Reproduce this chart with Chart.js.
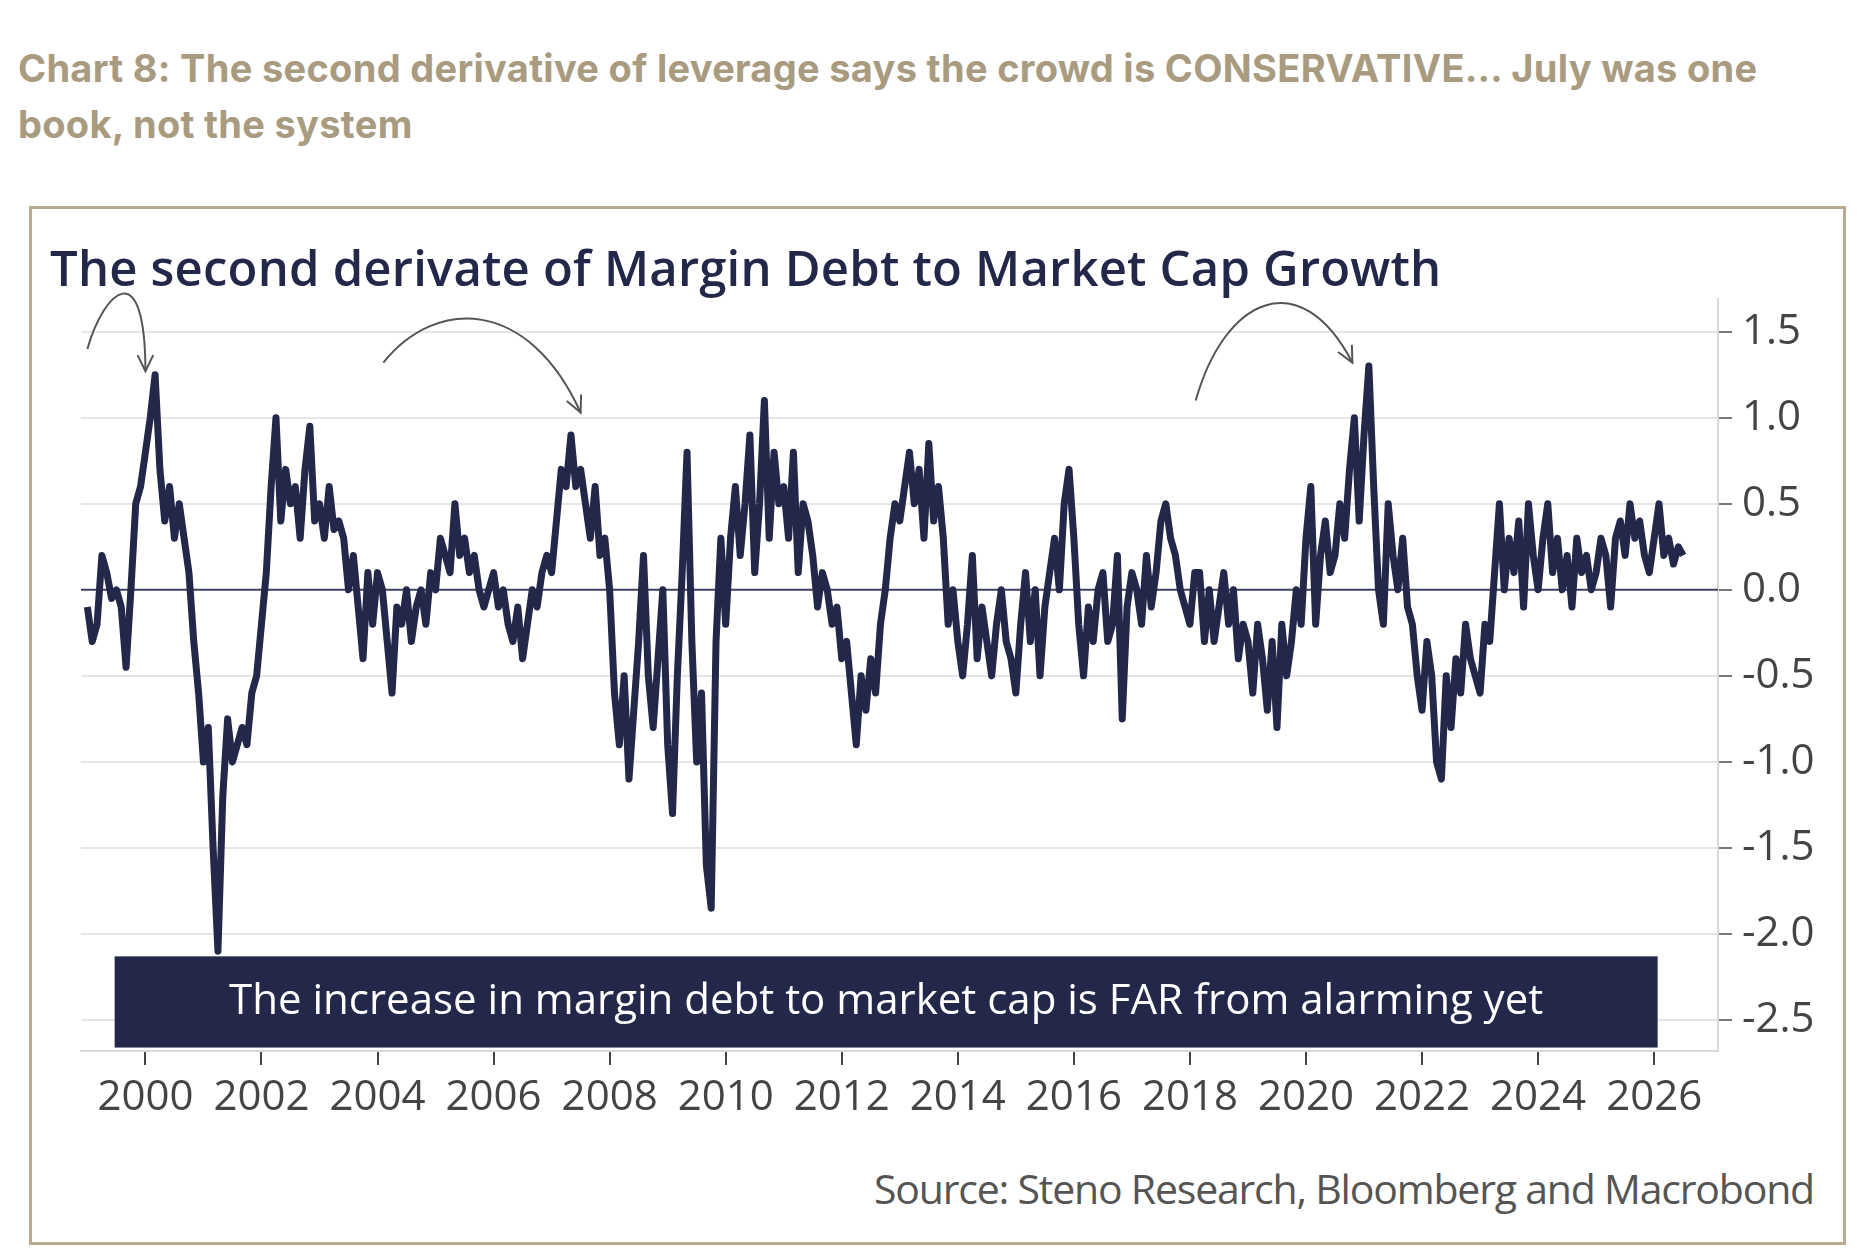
<!DOCTYPE html>
<html>
<head>
<meta charset="utf-8">
<script src="https://cdn.jsdelivr.net/npm/chart.js@4"></script>
<style>
  body { margin: 0; background: #fff; width: 1868px; height: 1260px; overflow: hidden; position: relative; }
  #heading { position: absolute; left: 18px; top: 40px; width: 1850px; font: bold 38px "Inter", "Noto Sans", sans-serif; color: #a99b80; line-height: 56px; letter-spacing: 0.3px; }
  #frame { position: absolute; left: 29px; top: 206px; width: 1811px; height: 1033px; border: 3px solid #b8ab92; }
  #title { position: absolute; left: 50px; top: 234px; font: 600 49px "Open Sans", sans-serif; color: #23284a; letter-spacing: 0.2px; }
  #source { position: absolute; right: 54px; top: 1160px; font: 41px "Open Sans", sans-serif; color: #555; letter-spacing: -1.2px; }
  canvas { position: absolute; left: 0; top: 0; }
</style>
</head>
<body>
<div id="heading">Chart 8: The second derivative of leverage says the crowd is CONSERVATIVE… July was one<br>book, not the system</div>
<div id="frame"></div>
<div id="title">The second derivate of Margin Debt to Market Cap Growth</div>
<div id="source">Source: Steno Research, Bloomberg and Macrobond</div>
<canvas id="c" width="1868" height="1260"></canvas>
<script>
// monthly values
const startYear = 1999;
const y1999 = [-0.1,-0.3,-0.2,0.2,0.1,-0.05,0.0,-0.1,-0.45,0.0,0.5,0.6];
const y2000 = [0.8,1.0,1.25,0.7,0.4,0.6,0.3,0.5,0.3,0.1,-0.3,-0.6];
const y2001 = [-1.0,-0.8,-1.5,-2.1,-1.2,-0.75,-1.0,-0.9,-0.8,-0.9,-0.6,-0.5];
const y2002 = [-0.2,0.1,0.6,1.0,0.4,0.7,0.5,0.6,0.3,0.7,0.95,0.4];
const y2003 = [0.5,0.3,0.6,0.35,0.4,0.3,0.0,0.2,-0.1,-0.4,0.1,-0.2];
const y2004 = [0.1,0.0,-0.3,-0.6,-0.1,-0.2,0.0,-0.3,-0.1,0.0,-0.2,0.1];
const y2005 = [0.0,0.3,0.2,0.1,0.5,0.2,0.3,0.1,0.2,0.0,-0.1,0.0];
const y2006 = [0.1,-0.1,0.0,-0.2,-0.3,-0.1,-0.4,-0.2,0.0,-0.1,0.1,0.2];
const y2007 = [0.1,0.4,0.7,0.6,0.9,0.6,0.7,0.5,0.3,0.6,0.2,0.3];
const y2008 = [0.0,-0.6,-0.9,-0.5,-1.1,-0.7,-0.3,0.2,-0.5,-0.8,-0.4,0.0];
const y2009 = [-0.9,-1.3,-0.5,0.1,0.8,-0.3,-1.0,-0.6,-1.6,-1.85,-0.3,0.3];
const y2010 = [-0.2,0.3,0.6,0.2,0.5,0.9,0.1,0.5,1.1,0.3,0.8,0.5];
const y2011 = [0.6,0.3,0.8,0.1,0.5,0.4,0.2,-0.1,0.1,0.0,-0.2,-0.1];
const y2012 = [-0.4,-0.3,-0.6,-0.9,-0.5,-0.7,-0.4,-0.6,-0.2,0.0,0.3,0.5];
const y2013 = [0.4,0.6,0.8,0.5,0.7,0.3,0.85,0.4,0.6,0.3,-0.2,0.0];
const y2014 = [-0.3,-0.5,-0.2,0.2,-0.4,-0.1,-0.3,-0.5,-0.2,0.0,-0.3,-0.4];
const y2015 = [-0.6,-0.2,0.1,-0.3,0.0,-0.5,-0.1,0.1,0.3,0.0,0.5,0.7];
const y2016 = [0.3,-0.2,-0.5,-0.1,-0.3,0.0,0.1,-0.3,-0.2,0.2,-0.75,-0.1];
const y2017 = [0.1,0.0,-0.2,0.2,-0.1,0.1,0.4,0.5,0.3,0.2,0.0,-0.1];
const y2018 = [-0.2,0.1,0.1,-0.3,0.0,-0.3,-0.1,0.1,-0.2,0.0,-0.4,-0.2];
const y2019 = [-0.3,-0.6,-0.2,-0.4,-0.7,-0.3,-0.8,-0.2,-0.5,-0.3,0.0,-0.2];
const y2020 = [0.3,0.6,-0.2,0.2,0.4,0.1,0.2,0.5,0.3,0.7,1.0,0.4];
const y2021 = [0.9,1.3,0.6,0.0,-0.2,0.5,0.2,0.0,0.3,-0.1,-0.2,-0.5];
const y2022 = [-0.7,-0.3,-0.5,-1.0,-1.1,-0.5,-0.8,-0.4,-0.6,-0.2,-0.4,-0.5];
const y2023 = [-0.6,-0.2,-0.3,0.1,0.5,0.0,0.3,0.1,0.4,-0.1,0.5,0.2];
const y2024 = [0.0,0.3,0.5,0.1,0.3,0.0,0.2,-0.1,0.3,0.1,0.2,0.0];
const y2025 = [0.1,0.3,0.2,-0.1,0.3,0.4,0.2,0.5,0.3,0.4,0.2,0.1];
const y2026 = [0.3,0.5,0.2,0.3,0.15,0.25,0.2];
const yearTicks = [2000,2002,2004,2006,2008,2010,2012,2014,2016,2018,2020,2022,2024,2026];
const valueTicks = [1.5,1.0,0.5,0.0,-0.5,-1.0,-1.5,-2.0,-2.5];
const bannerText = "The increase in margin debt to market cap is FAR from alarming yet";

const allMonths = [y1999,y2000,y2001,y2002,y2003,y2004,y2005,y2006,y2007,y2008,y2009,y2010,y2011,y2012,
  y2013,y2014,y2015,y2016,y2017,y2018,y2019,y2020,y2021,y2022,y2023,y2024,y2025,y2026].flat();
const points = allMonths.map((v, i) => ({ x: startYear + i / 12, y: v }));

const NAVY = "#23284a";

// -------- extras: banner, arrows, zero line ----------
const extras = {
  id: "extras",
  beforeDatasetsDraw(chart) {
    const { ctx, scales: { y }, chartArea } = chart;
    ctx.save();
    ctx.strokeStyle = "#3c4160"; ctx.lineWidth = 2;
    ctx.beginPath(); ctx.moveTo(chartArea.left, y.getPixelForValue(0)); ctx.lineTo(chartArea.right, y.getPixelForValue(0)); ctx.stroke();
    ctx.restore();
  },
  afterDatasetsDraw(chart) {
    const { ctx, scales: { x, y } } = chart;
    ctx.save();
    // banner
    const bx1 = x.getPixelForValue(1999.47), bx2 = x.getPixelForValue(2026.06);
    const by1 = y.getPixelForValue(-2.13), by2 = y.getPixelForValue(-2.66);
    ctx.fillStyle = NAVY;
    ctx.fillRect(bx1, by1, bx2 - bx1, by2 - by1);
    ctx.fillStyle = "#fff";
    ctx.font = '42px "Open Sans"';
    ctx.textAlign = "center"; ctx.textBaseline = "middle";
    ctx.fillText(bannerText, (bx1 + bx2) / 2, (by1 + by2) / 2);
    // arrows
    ctx.strokeStyle = "#555"; ctx.lineWidth = 2;
    const arrow = (p0, c1, c2, p1) => {
      const P = (a) => [x.getPixelForValue(a[0]), y.getPixelForValue(a[1])];
      const [a, b, c, d] = [P(p0), P(c1), P(c2), P(p1)];
      ctx.beginPath(); ctx.moveTo(...a); ctx.bezierCurveTo(...b, ...c, ...d); ctx.stroke();
      const ang = Math.atan2(d[1] - c[1], d[0] - c[0]);
      ctx.beginPath();
      ctx.moveTo(d[0] - 18 * Math.cos(ang - 0.45), d[1] - 18 * Math.sin(ang - 0.45));
      ctx.lineTo(...d);
      ctx.lineTo(d[0] - 18 * Math.cos(ang + 0.45), d[1] - 18 * Math.sin(ang + 0.45));
      ctx.stroke();
    };
    arrow([1999.0, 1.4], [1999.3, 1.75], [2000.0, 1.95], [2000.0, 1.27]);
    arrow([2004.1, 1.32], [2005.0, 1.7], [2006.6, 1.7], [2007.5, 1.03]);
    arrow([2018.1, 1.1], [2018.6, 1.7], [2019.9, 1.9], [2020.8, 1.32]);
    ctx.restore();
  }
};

new Chart(document.getElementById("c"), {
  type: "line",
  data: { datasets: [{ data: points, borderColor: NAVY, borderWidth: 7, pointRadius: 0, tension: 0, borderJoinStyle: "round" }] },
  options: {
    responsive: false, animation: false,
    layout: { padding: { left: 81, top: 299, right: 18, bottom: 129 } },
    plugins: { legend: { display: false }, tooltip: { enabled: false } },
    scales: {
      x: {
        type: "linear", min: 1998.89, max: 2027.1,
        afterBuildTicks: (s) => { s.ticks = yearTicks.map(v => ({ value: v })); },
        afterFit: (s) => { s.height = 80; },
        grid: { display: true, drawOnChartArea: false, drawTicks: true, tickLength: 14, color: "#444", lineWidth: 2 },
        border: { color: "#d8d8d8", width: 2 },
        ticks: { color: "#444", font: { family: "Open Sans", size: 42 }, padding: 8, maxRotation: 0, autoSkip: false, callback: (v) => String(v) }
      },
      y: {
        position: "right", min: -2.68, max: 1.69,
        afterBuildTicks: (s) => { s.ticks = valueTicks.map(v => ({ value: v })); },
        afterFit: (s) => { s.width = 132; },
        grid: { color: (c) => c.tick && c.tick.value === 0 ? "rgba(0,0,0,0)" : "#e6e6e6", lineWidth: 2, tickLength: 14, tickColor: "#777" },
        border: { color: "#d8d8d8", width: 2 },
        ticks: { color: "#444", font: { family: "Open Sans", size: 42 }, padding: 10, callback: (v) => v.toFixed(1) }
      }
    }
  },
  plugins: [extras]
});
</script>
</body>
</html>
